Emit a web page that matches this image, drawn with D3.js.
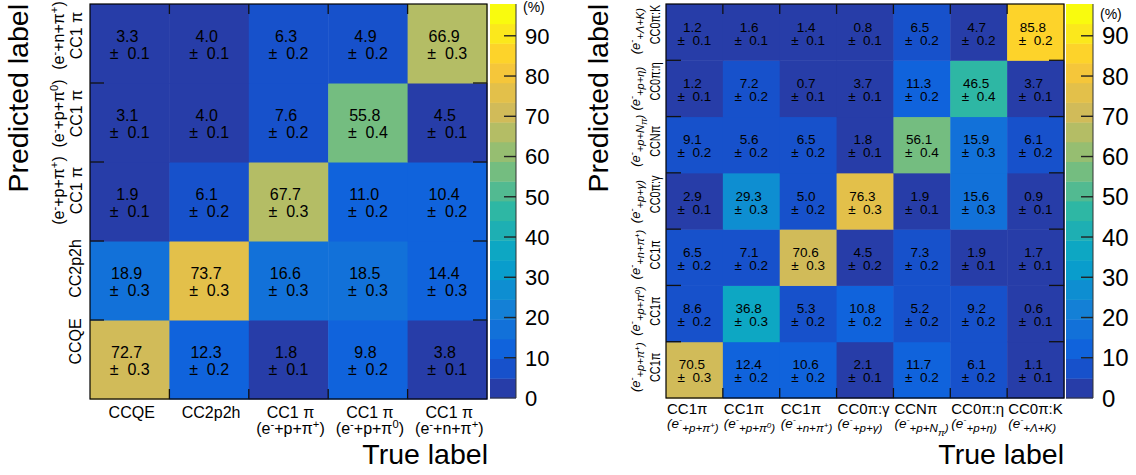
<!DOCTYPE html>
<html><head><meta charset="utf-8">
<script src="https://cdn.jsdelivr.net/npm/d3@7"></script>
<style>
body{margin:0;background:#fff;}
text{font-family:"Liberation Sans",Arial,Helvetica,sans-serif;fill:#000;}
</style>
</head><body>
<svg id="c" width="1136" height="475"></svg>
<script>
// ---------------- DATA ----------------
// Left matrix: categories index 0 = bottom row / left column
const leftXLabels = [["CCQE"],["CC2p2h"],["CC1 π","(e^{-}+p+π^{+})"],["CC1 π","(e^{-}+p+π^{0})"],["CC1 π","(e^{-}+n+π^{+})"]];
const leftYLabels = [["CCQE"],["CC2p2h"],["(e^{-}+p+π^{+})","CC1 π"],["(e^{-}+p+π^{0})","CC1 π"],["(e^{-}+n+π^{+})","CC1 π"]];
// rows = predicted (bottom -> top), columns = true
const leftValues = [
  [72.7, 12.3, 1.8, 9.8, 3.8],
  [18.9, 73.7, 16.6, 18.5, 14.4],
  [1.9, 6.1, 67.7, 11.0, 10.4],
  [3.1, 4.0, 7.6, 55.8, 4.5],
  [3.3, 4.0, 6.3, 4.9, 66.9]
];
const leftErrors = [
  [0.3, 0.2, 0.1, 0.2, 0.1],
  [0.3, 0.3, 0.3, 0.3, 0.3],
  [0.1, 0.2, 0.3, 0.2, 0.2],
  [0.1, 0.1, 0.2, 0.4, 0.1],
  [0.1, 0.1, 0.2, 0.2, 0.3]
];
// Right matrix
const rightXLabels = [["CC1π","(e^{-}_{+p+π^{+})}"],["CC1π","(e^{-}_{+p+π^{0})}"],["CC1π","(e^{-}_{+n+π^{+})}"],["CC0π:γ","(e^{-}_{+p+γ)}"],["CCNπ","(e^{-}_{+p+N_{π})}"],["CC0π:η","(e^{-}_{+p+η)}"],["CC0π:K","(e^{-}_{+Λ+K)}"]];
const rightValues = [
  [70.5, 12.4, 10.6, 2.1, 11.7, 6.1, 1.1],
  [8.6, 36.8, 5.3, 10.8, 5.2, 9.2, 0.6],
  [6.5, 7.1, 70.6, 4.5, 7.3, 1.9, 1.7],
  [2.9, 29.3, 5.0, 76.3, 1.9, 15.6, 0.9],
  [9.1, 5.6, 6.5, 1.8, 56.1, 15.9, 6.1],
  [1.2, 7.2, 0.7, 3.7, 11.3, 46.5, 3.7],
  [1.2, 1.6, 1.4, 0.8, 6.5, 4.7, 85.8]
];
const rightErrors = [
  [0.3, 0.2, 0.2, 0.1, 0.2, 0.2, 0.1],
  [0.2, 0.3, 0.2, 0.2, 0.2, 0.2, 0.1],
  [0.2, 0.2, 0.3, 0.2, 0.2, 0.1, 0.1],
  [0.1, 0.3, 0.2, 0.3, 0.1, 0.3, 0.1],
  [0.2, 0.2, 0.2, 0.1, 0.4, 0.3, 0.2],
  [0.1, 0.2, 0.1, 0.1, 0.2, 0.4, 0.1],
  [0.1, 0.1, 0.1, 0.1, 0.2, 0.2, 0.2]
];
const colorTicks = [0,10,20,30,40,50,60,70,80,90];
const zMax = 97.9, nBands = 20;
// ROOT kBird palette
const birdStops = [0.0, 0.125, 0.25, 0.375, 0.5, 0.625, 0.75, 0.875, 1.0];
const birdR = [0.2082, 0.0592, 0.0780, 0.0232, 0.1802, 0.5301, 0.8186, 0.9956, 0.9764];
const birdG = [0.1664, 0.3599, 0.5041, 0.6419, 0.7178, 0.7492, 0.7328, 0.7862, 0.9832];
const birdB = [0.5293, 0.8684, 0.8385, 0.7914, 0.6425, 0.4662, 0.3499, 0.1968, 0.0539];

// ---------------- HELPERS ----------------
const svg = d3.select("#c");
const sR = d3.scaleLinear().domain(birdStops).range(birdR);
const sG = d3.scaleLinear().domain(birdStops).range(birdG);
const sB = d3.scaleLinear().domain(birdStops).range(birdB);
function bandColor(b){
  const k = Math.floor((b + 0.99) * 255 / nBands);
  const t = Math.min(1, k / 254);
  return d3.rgb(sR(t)*255, sG(t)*255, sB(t)*255).formatHex();
}
function valColor(v){
  const b = Math.max(0, Math.min(nBands-1, Math.floor(v / (zMax/nBands) + 1e-9)));
  return bandColor(b);
}
function renderTex(textSel, str, baseSize, supShift){
  const up = supShift || 0.42;
  const segs = [];
  function parse(s, i, size, shift){
    let buf = "";
    const flush = () => { if (buf) { segs.push({t: buf, size, shift}); buf = ""; } };
    while (i < s.length){
      const ch = s[i];
      if (ch === '}') { flush(); return i + 1; }
      if ((ch === '^' || ch === '_') && s[i+1] === '{'){
        flush();
        const ns = size * (ch === '^' ? 0.7 : 0.86);
        const nsh = shift + (ch === '^' ? -up*size : 0.3*size);
        i = parse(s, i + 2, ns, nsh);
        continue;
      }
      buf += ch; i++;
    }
    flush(); return i;
  }
  parse(str, 0, baseSize, 0);
  let cur = 0;
  segs.forEach(sg => {
    textSel.append("tspan").attr("font-size", sg.size).attr("dy", sg.shift - cur).text(sg.t);
    cur = sg.shift;
  });
}

function drawMatrix(cfg){
  const n = cfg.values.length;
  const idx = d3.range(n);
  const x = d3.scaleBand().domain(idx).range([cfg.x0, cfg.x1]);
  const y = d3.scaleBand().domain(idx).range([cfg.y1, cfg.y0]);
  const g = svg.append("g");
  const cells = [];
  cfg.values.forEach((row, i) => row.forEach((v, j) => cells.push({i, j, v, e: cfg.errors[i][j]})));
  g.selectAll("rect.cell").data(cells).join("rect")
    .attr("x", d => x(d.j)).attr("y", d => y(d.i))
    .attr("width", x.bandwidth() + 0.5).attr("height", y.bandwidth() + 0.5)
    .attr("fill", d => valColor(d.v));
  const fs = cfg.cellFont;
  cells.forEach(d => {
    const cx = x(d.j) + x.bandwidth()/2, cy = y(d.i) + y.bandwidth()/2;
    const t2 = g.append("text").attr("font-size", fs).attr("y", cy + cfg.line2dy)
      .text("±\u00A0\u00A0" + d.e.toFixed(1));
    const w2 = t2.node().getComputedTextLength();
    const left = cx - w2/2;
    t2.attr("x", left);
    g.append("text").attr("font-size", fs).attr("y", cy + cfg.line1dy)
      .attr("x", left + (d.v < 10 ? 0.4*fs : 0.08*fs)).text(d.v.toFixed(1));
  });
  g.append("rect").attr("x", cfg.x0).attr("y", cfg.y0).attr("width", cfg.x1-cfg.x0).attr("height", cfg.y1-cfg.y0)
    .attr("fill", "none").attr("stroke", "#000").attr("stroke-width", 1.2);
  const tk = g.append("g").attr("stroke", "#111").attr("stroke-width", 1.3);
  d3.range(1, n).forEach(k => {
    const xb = x(k);
    tk.append("line").attr("x1", xb).attr("x2", xb).attr("y1", cfg.y0).attr("y2", cfg.y0 + cfg.xTick);
    tk.append("line").attr("x1", xb).attr("x2", xb).attr("y1", cfg.y1).attr("y2", cfg.y1 - cfg.xTick);
    const yb = y(k) + y.bandwidth();
    tk.append("line").attr("y1", yb).attr("y2", yb).attr("x1", cfg.x0).attr("x2", cfg.x0 + cfg.yTick);
    tk.append("line").attr("y1", yb).attr("y2", yb).attr("x1", cfg.x1).attr("x2", cfg.x1 - cfg.yTick);
  });
  return {x, y, g};
}

function drawColorbar(cfg){
  const cy = d3.scaleLinear().domain([0, zMax]).range([cfg.y1, cfg.y0]);
  const g = svg.append("g");
  const bw = zMax / nBands;
  d3.range(nBands).forEach(b => {
    g.append("rect").attr("x", cfg.bx0).attr("width", cfg.bx1 - cfg.bx0)
      .attr("y", cy((b+1)*bw)).attr("height", cy(b*bw) - cy((b+1)*bw) + 0.4)
      .attr("fill", bandColor(b));
  });
  g.append("line").attr("x1", cfg.bx1).attr("x2", cfg.bx1).attr("y1", cfg.y0).attr("y2", cfg.y1)
    .attr("stroke", "#333").attr("stroke-width", 1);
  g.append("line").attr("x1", cfg.bx0).attr("x2", cfg.bx1).attr("y1", cfg.y1).attr("y2", cfg.y1)
    .attr("stroke", "#333").attr("stroke-width", 1);
  colorTicks.forEach(t => {
    if (t > 0) g.append("line").attr("x1", cfg.bx1).attr("x2", cfg.bx1 - 12).attr("y1", cy(t)).attr("y2", cy(t))
      .attr("stroke", "#222").attr("stroke-width", 1.4);
    g.append("text").attr("x", cfg.bx1 + 9).attr("y", cy(t)).attr("dy", "0.36em")
      .attr("font-size", cfg.labelFont).text(t);
  });
  g.append("text").attr("x", cfg.bx1 + 7).attr("y", cfg.pctY).attr("font-size", 14).text("(%)");
}

// ---------------- LEFT PLOT ----------------
const L = drawMatrix({values: leftValues, errors: leftErrors, x0: 90, x1: 487, y0: 4, y1: 399,
  cellFont: 16, line1dy: -2, line2dy: 15, xTick: 10, yTick: 14});
leftXLabels.forEach((lab, j) => {
  const cx = L.x(j) + L.x.bandwidth()/2 + 2;
  svg.append("text").attr("x", cx).attr("y", 418).attr("text-anchor", "middle").attr("font-size", 16).text(lab[0]);
  if (lab.length > 1)
    renderTex(svg.append("text").attr("x", cx).attr("y", 434).attr("text-anchor", "middle").attr("font-size", 16), lab[1], 16, 0.36);
});
const leftYShift = [-18, -12, -11, -9, -8];
leftYLabels.forEach((lab, i) => {
  const cy = L.y(i) + L.y.bandwidth()/2 + leftYShift[i];
  if (lab.length === 1){
    svg.append("text").attr("transform", `translate(81,${cy}) rotate(-90)`).attr("text-anchor", "middle")
      .attr("font-size", 16).text(lab[0]);
  } else {
    renderTex(svg.append("text").attr("transform", `translate(64,${cy}) rotate(-90)`).attr("text-anchor", "middle")
      .attr("font-size", 16), lab[0], 16, 0.36);
    svg.append("text").attr("transform", `translate(82,${cy}) rotate(-90)`).attr("text-anchor", "middle")
      .attr("font-size", 16).text(lab[1]);
  }
});
svg.append("text").attr("x", 488).attr("y", 464).attr("text-anchor", "end").attr("font-size", 28.5).text("True label");
svg.append("text").attr("transform", "translate(28,4) rotate(-90)").attr("text-anchor", "end").attr("font-size", 28.5).text("Predicted label");
drawColorbar({bx0: 490, bx1: 516, y0: 4, y1: 398, labelFont: 22, pctY: 12});

// ---------------- RIGHT PLOT ----------------
const R = drawMatrix({values: rightValues, errors: rightErrors, x0: 666, x1: 1064, y0: 4, y1: 398,
  cellFont: 13.5, line1dy: -0.5, line2dy: 12.6, xTick: 10, yTick: 15});
rightXLabels.forEach((lab, j) => {
  const lx = R.x(j) + 1;
  svg.append("text").attr("x", lx).attr("y", 414).attr("font-size", 15).text(lab[0]);
  renderTex(svg.append("text").attr("x", lx).attr("y", 428).attr("font-size", 13.5).attr("font-style", "italic"), lab[1], 13.5, 0.36);
});
rightXLabels.forEach((lab, i) => {
  const rb = R.y(i) + R.y.bandwidth();
  svg.append("text").attr("transform", `translate(660,${rb - 16}) rotate(-90) scale(0.75,1)`)
    .attr("font-size", 14.5).text(lab[0]);
  renderTex(svg.append("text").attr("transform", `translate(640,${rb - 6}) rotate(-90)`)
    .attr("font-size", 13).attr("font-style", "italic"), lab[1], 13, 0.36);
});
svg.append("text").attr("x", 1064).attr("y", 464).attr("text-anchor", "end").attr("font-size", 28.5).text("True label");
svg.append("text").attr("transform", "translate(608,4) rotate(-90)").attr("text-anchor", "end").attr("font-size", 28.5).text("Predicted label");
drawColorbar({bx0: 1066, bx1: 1093, y0: 4, y1: 398, labelFont: 24, pctY: 19});
</script>
</body></html>
